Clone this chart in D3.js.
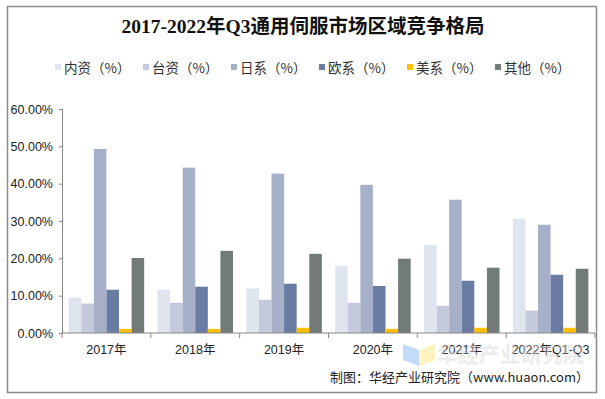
<!DOCTYPE html>
<html>
<head>
<meta charset="utf-8">
<script src="https://cdn.jsdelivr.net/npm/d3@7/dist/d3.min.js"></script>
<style>
  body { margin: 0; background: #fff; }
  svg text { font-family: "Liberation Sans", Arial, "Noto Sans CJK SC", sans-serif; }
</style>
</head>
<body>
<div id="chart"></div>
<script>
// chart values
const years = ['2017年', '2018年', '2019年', '2020年', '2021年', '2022年Q1-Q3'];
const seriesNames = ['内资（%）', '台资（%）', '日系（%）', '欧系（%）', '美系（%）', '其他（%）'];
const neizi  = [9.5, 11.6, 11.9, 18.0, 23.6, 30.6];
const taizi  = [7.9, 8.1, 8.9, 8.1, 7.3, 6.0];
const rixi   = [49.3, 44.3, 42.7, 39.7, 35.7, 29.0];
const ouxi   = [11.6, 12.4, 13.2, 12.6, 14.0, 15.6];
const meixi  = [1.1, 1.1, 1.4, 1.1, 1.4, 1.4];
const qita   = [20.1, 22.0, 21.2, 19.9, 17.5, 17.2];
const yTicks = [0, 10, 20, 30, 40, 50, 60];
const colours = ['#dfe4ee', '#c4cadb', '#a6b1c9', '#6a7ca2', '#ffc000', '#737b78'];

const series = [neizi, taizi, rixi, ouxi, meixi, qita];

const width = 605, height = 399;
const margin = {top: 109, right: 10, bottom: 66, left: 62};
const w = 595 - margin.left;
const h = 333 - margin.top;

const svg = d3.select('#chart').append('svg')
  .attr('width', width)
  .attr('height', height);

// outer frame
svg.append('rect')
  .attr('x', 7.5).attr('y', 6.5)
  .attr('width', 589).attr('height', 386)
  .attr('fill', 'none')
  .attr('stroke', '#8c8c8c')
  .attr('stroke-width', 1.5);

svg.append('text')
  .attr('x', 303).attr('y', 33)
  .attr('text-anchor', 'middle')
  .style('font-family', '"Liberation Serif", "Noto Sans CJK SC", serif')
  .style('font-weight', 'bold')
  .style('font-size', '19.5px')
  .attr('fill', '#111')
  .text('2017-2022年Q3通用伺服市场区域竞争格局');

// legend
const legendX = d3.scalePoint().domain(seriesNames).range([55, 495]);
const legend = svg.append('g').selectAll('g')
  .data(seriesNames).enter().append('g')
  .attr('transform', d => `translate(${legendX(d)},68)`);
legend.append('rect')
  .attr('x', 0).attr('y', -4)
  .attr('width', 6).attr('height', 6)
  .attr('fill', (d, i) => colours[i]);
legend.append('text')
  .attr('x', 9).attr('y', 0)
  .attr('dy', '0.36em')
  .style('font-family', '"Noto Sans CJK SC", sans-serif')
  .style('font-size', '13.5px')
  .attr('fill', '#333')
  .text(d => d);

const g = svg.append('g')
  .attr('transform', `translate(${margin.left},${margin.top})`);

const x0 = d3.scaleBand().domain(years).range([0, w])
  .paddingInner(0.15).paddingOuter(0.075);
const x1 = d3.scaleBand().domain(d3.range(series.length)).range([0, x0.bandwidth()]);
const y = d3.scaleLinear().domain([0, 60]).range([h, 0]);

// bars
const groups = g.selectAll('.grp')
  .data(years).enter().append('g')
  .attr('class', 'grp')
  .attr('transform', d => `translate(${x0(d)},0)`);
groups.selectAll('rect')
  .data((d, i) => series.map((s, k) => ({k: k, v: s[i]})))
  .enter().append('rect')
  .attr('x', d => x1(d.k))
  .attr('y', d => y(d.v))
  .attr('width', x1.bandwidth())
  .attr('height', d => h - y(d.v))
  .attr('fill', d => colours[d.k]);

// y axis
const yAxis = g.append('g')
  .call(d3.axisLeft(y).tickValues(yTicks).tickSize(3).tickPadding(6)
    .tickFormat(d => d.toFixed(2) + '%'));
yAxis.select('.domain').attr('stroke', '#888');
yAxis.selectAll('.tick line').attr('stroke', '#888');
yAxis.selectAll('text')
  .style('font-size', '12.5px')
  .attr('fill', '#222');

// x axis with ticks on the category boundaries
const xAxis = g.append('g').attr('transform', `translate(0,${h})`);
xAxis.append('line')
  .attr('x1', 0).attr('x2', w)
  .attr('stroke', '#888');
xAxis.selectAll('.bound')
  .data(d3.range(years.length + 1)).enter().append('line')
  .attr('x1', i => i * x0.step()).attr('x2', i => i * x0.step())
  .attr('y1', 0).attr('y2', 5)
  .attr('stroke', '#888');
xAxis.selectAll('.lbl')
  .data(years).enter().append('text')
  .attr('x', d => x0(d) + x0.bandwidth() / 2)
  .attr('y', 21)
  .attr('text-anchor', 'middle')
  .style('font-size', '12.5px')
  .attr('fill', '#222')
  .text(d => d);

// watermark
const wm = svg.append('g').attr('opacity', 0.7);
wm.append('path')
  .attr('d', 'M403,344 L419,350 L419,366 L403,360 Z')
  .attr('fill', '#a9cdf3');
wm.append('path')
  .attr('d', 'M419,350 L435,344 L435,360 L419,366 Z')
  .attr('fill', '#fff0a8');
wm.append('text')
  .attr('x', 437).attr('y', 362)
  .style('font-family', '"Noto Sans CJK SC", sans-serif')
  .style('font-size', '21px')
  .style('font-weight', 'bold')
  .attr('fill', '#d9d9d9')
  .attr('opacity', 0.7)
  .text('华经产业研究院');

svg.append('text')
  .attr('x', 589).attr('y', 382)
  .attr('text-anchor', 'end')
  .style('font-family', '"Noto Sans CJK SC", sans-serif')
  .style('font-size', '13px')
  .attr('fill', '#222')
  .text('制图：华经产业研究院（www.huaon.com）');
</script>
</body>
</html>
